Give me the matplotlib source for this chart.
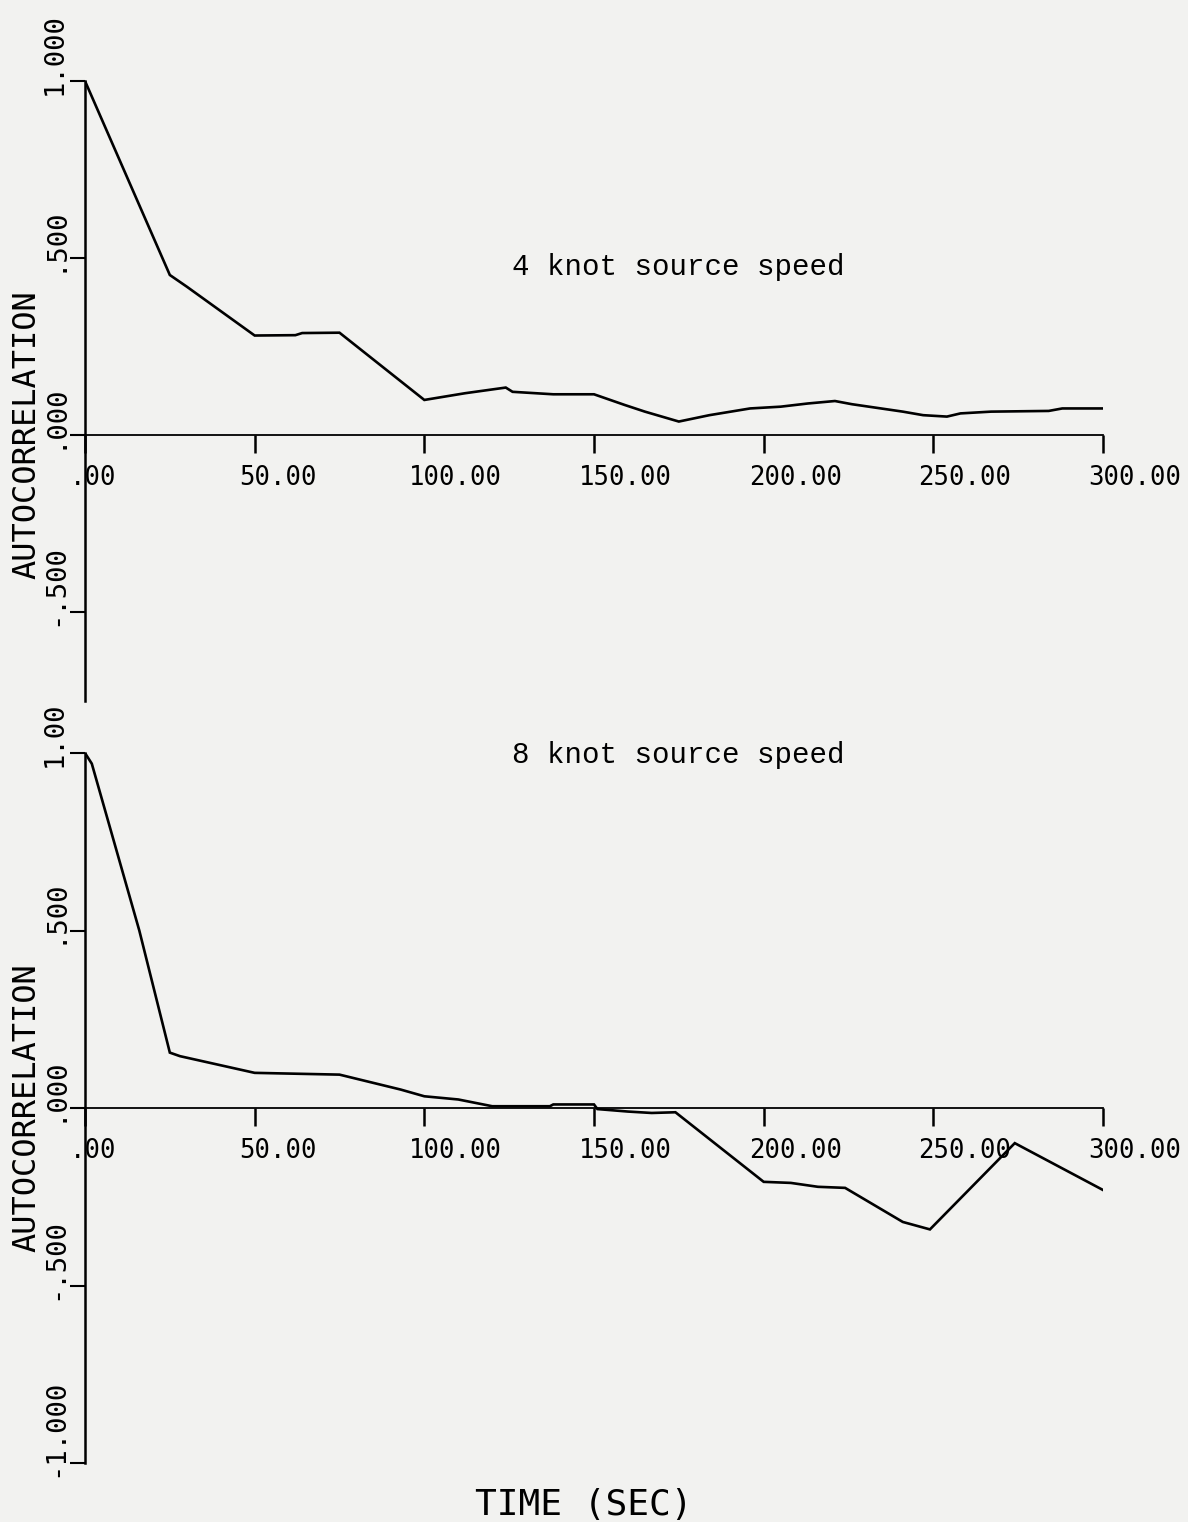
import matplotlib
matplotlib.use("Agg")
import matplotlib.pyplot as plt
import matplotlib.transforms as mtransforms

# 4 knot source speed
t4 = [0, 25, 30, 50, 62, 64, 75, 100, 112, 124, 126, 138, 150, 159, 165, 175,
      184, 196, 205, 213, 221, 226, 241, 247, 254, 258, 267, 284, 288, 300]
r4 = [1.0, 0.452, 0.419, 0.281, 0.282, 0.288, 0.289, 0.099, 0.118, 0.134, 0.122,
      0.115, 0.115, 0.085, 0.066, 0.038, 0.056, 0.075, 0.080, 0.089, 0.096, 0.087,
      0.066, 0.056, 0.052, 0.061, 0.066, 0.068, 0.075, 0.075]

# 8 knot source speed
t8 = [0, 2, 16, 25, 28, 50, 75, 93, 100, 110, 120, 137, 138, 150, 151, 160, 167,
      174, 200, 208, 216, 224, 241, 249, 274, 300]
r8 = [1.0, 0.97, 0.50, 0.156, 0.146, 0.099, 0.094, 0.052, 0.033, 0.024, 0.005,
      0.005, 0.01, 0.01, -0.003, -0.01, -0.014, -0.012, -0.208, -0.211, -0.222,
      -0.225, -0.321, -0.342, -0.099, -0.231]

xticks = [0, 50, 100, 150, 200, 250, 300]
xlabels = [".00", "50.00", "100.00", "150.00", "200.00", "250.00", "300.00"]
yticks4 = [1.0, 0.5, 0.0, -0.5]
ylabels4 = ["1.000", ".500", ".000", "-.500"]
yticks8 = [1.0, 0.5, 0.0, -0.5, -1.0]
ylabels8 = ["1.00", ".500", ".000", "-.500", "-1.000"]

W, H = 1188, 1522
bg = "#f2f2f0"
mono = "DejaVu Sans Mono"

fig = plt.figure(figsize=(W / 100, H / 100), dpi=100, facecolor=bg)


def px(dx, dy):
    # offset in pixels (dpi = 100)
    return mtransforms.ScaledTranslation(dx / 100, dy / 100, fig.dpi_scale_trans)


def panel(rect, t, r, ylim, yticks, ylabels, title, title_y):
    ax = fig.add_axes(rect)
    ax.set_facecolor("none")
    ax.plot(t, r, color="black", lw=1.9, solid_joinstyle="miter")
    ax.set_xlim(0, 300)
    ax.set_ylim(*ylim)
    for s in ["top", "right"]:
        ax.spines[s].set_visible(False)
    ax.spines["bottom"].set_position(("data", 0))
    ax.spines["bottom"].set_linewidth(1.3)
    ax.spines["left"].set_linewidth(1.8)
    ax.set_xticks(xticks)
    ax.set_yticks(yticks)
    ax.tick_params(axis="x", direction="out", length=13, width=1.8,
                   labelbottom=False)
    ax.tick_params(axis="y", direction="out", length=11, width=1.5,
                   labelleft=False)

    # x tick labels, left aligned just before each tick
    for x, lab in zip(xticks, xlabels):
        ax.text(x, 0, lab, fontsize=18.5, family=mono, ha="left", va="top",
                transform=ax.transData + px(-15, -30))

    # y tick labels, rotated, next to the axis
    tr = mtransforms.blended_transform_factory(fig.transFigure, ax.transData)
    for y, lab in zip(yticks, ylabels):
        ax.text(55 / W, y, lab, fontsize=19.5, family=mono, rotation=90,
                rotation_mode="anchor", ha="left", va="center",
                transform=tr + px(0, -14))

    ax.text(27 / W, 0.0, "AUTOCORRELATION", fontsize=23, family=mono,
            rotation=90, ha="center", va="center", transform=tr)

    fig.text(512 / W, 1 - title_y / H, title, fontsize=21,
             family="Liberation Mono", ha="left", va="baseline")
    return ax


panel([85 / W, 1 - 700.5 / H, 1018 / W, 619.5 / H], t4, r4, (-0.75, 1.0),
      yticks4, ylabels4, "4 knot source speed", 275)
panel([85 / W, 1 - 1463 / H, 1018 / W, 710 / H], t8, r8, (-1.0, 1.0),
      yticks8, ylabels8, "8 knot source speed", 763)

fig.text(584 / W, 1 - 1505 / H, "TIME (SEC)", fontsize=26, family=mono,
         ha="center", va="center")

fig.savefig("out.png", dpi=100, facecolor=bg)
